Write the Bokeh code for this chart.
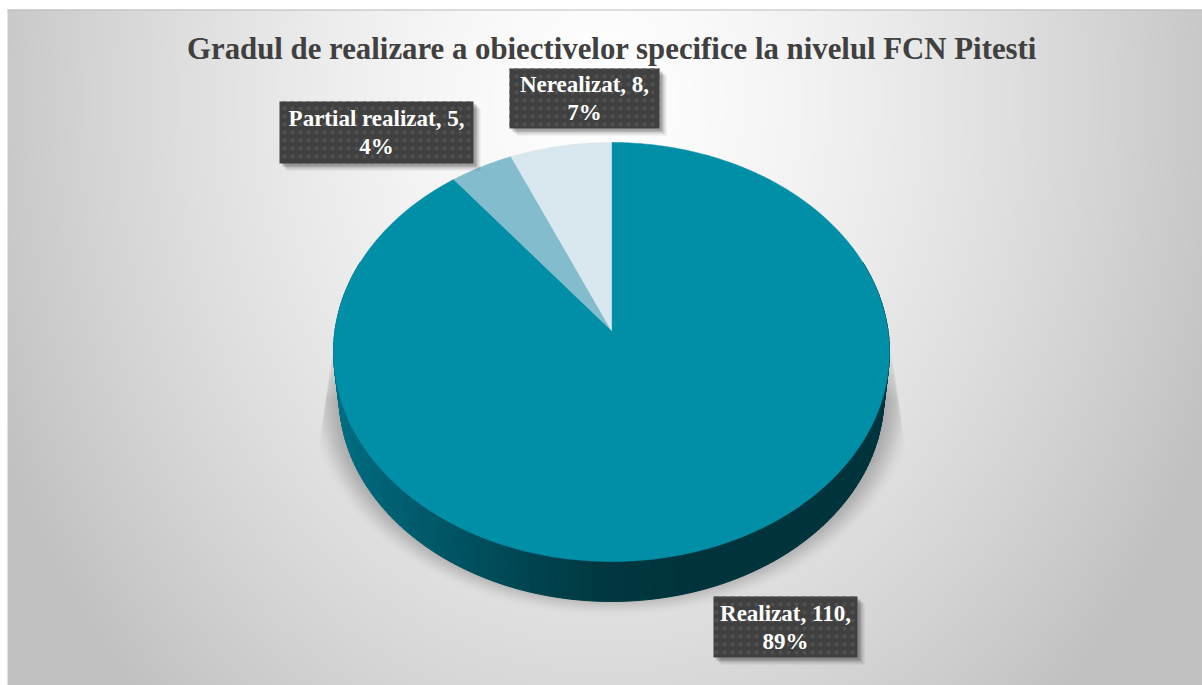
import numpy as np
from bokeh.plotting import figure
from bokeh.models import Range1d
from bokeh.embed import file_html
from bokeh.resources import INLINE
from bokeh.core.properties import value

# --- data
categories = ["Realizat", "Partial realizat", "Nerealizat"]
values = [110, 5, 8]
percents = ["89%", "4%", "7%"]
colors = ["#018fa8", "#83bccd", "#d9e7ee"]
title = "Gradul de realizare a obiectivelor specifice la nivelul FCN Pitesti"

W, H = 1202, 685
p = figure(width=W, height=H, output_backend="svg", toolbar_location=None,
           x_range=Range1d(0, W), y_range=Range1d(-H, 0),
           min_border=0, outline_line_color=None, background_fill_color="white",
           border_fill_color="white")
p.axis.visible = False
p.grid.visible = False

# --- background: radial gradient plus soft shadow under the pie
yy, xx = np.mgrid[0:H, 0:W]
px = xx + 0.5
py = yy + 0.5
r = np.sqrt(((px - 600) / 630) ** 2 + ((py - 100) / 800) ** 2)
bg = 255 - np.minimum(58 * r ** 1.4, 62)
rs = np.sqrt(((px - 611) / 305) ** 2 + ((py - 395) / 222) ** 2)
soft = np.clip((1.0 - rs) / 0.12, 0, 1)
soft = soft * soft * (3 - 2 * soft)
ramp = np.clip((py - 340) / 60, 0, 1)
edge_l = 333 - (py - 345) * 17 / 115
edge_r = 890 + (py - 345) * 17 / 115
clip = np.clip(px - edge_l, 0, 1) * np.clip(edge_r - px, 0, 1)
clip = np.where(py > 470, 1.0, clip)
shade = 1 - 0.25 * soft * ramp * clip
gray = np.clip(bg * shade, 0, 255).astype(np.uint32)
rgba = ((255 << 24) | (gray << 16) | (gray << 8) | gray).astype(np.uint32)
rgba[(px < 7) | (py < 9)] = 0xFFFFFFFF
p.image_rgba(image=[rgba[::-1]], x=0, y=-H, dw=W, dh=H)
p.segment(x0=[7], y0=[-9.5], x1=[W], y1=[-9.5], line_color="#bdbdbd", line_width=1)

# --- perspective pie geometry
CX, CY = 611, 330
A, B, K = 276.5, 207.3, 0.1026
S, DEPTH = 0.98, 44.6
def proj(t):
    Xv, Yv = np.sin(t), np.cos(t)
    d = 1 + K * Yv
    return CX + A * Xv / d, CY - B * Yv / d

total = sum(values)
fracs = np.cumsum([0] + values) / total * 2 * np.pi

def lerp_color(x):
    stops = [(333, (0, 110, 130)), (430, (0, 88, 104)), (530, (0, 68, 80)), (600, (0, 56, 65)), (700, (0, 52, 60)), (890, (0, 52, 60))]
    xs = [s[0] for s in stops]
    return "#%02x%02x%02x" % tuple(int(np.interp(x, xs, [s[1][i] for s in stops])) for i in range(3))

ts = np.linspace(np.radians(70), np.radians(290), 181)
tx, ty = proj(ts)
bx = CX + (tx - CX) * S
by = CY + DEPTH + (ty - CY) * S
side_xs, side_ys, side_c = [], [], []
for i in range(len(ts) - 1):
    side_xs.append([tx[i], tx[i + 1], bx[i + 1], bx[i]])
    side_ys.append([-ty[i], -ty[i + 1], -by[i + 1], -by[i]])
    side_c.append(lerp_color((tx[i] + tx[i + 1]) / 2))
p.patches(side_xs, side_ys, fill_color=side_c, line_color=side_c, line_width=1)

for i in range(len(values)):
    t = np.linspace(fracs[i], fracs[i + 1], max(3, int(values[i] * 4)))
    x, y = proj(t)
    p.patch(np.r_[CX, x], -np.r_[CY, y], fill_color=colors[i], line_color=colors[i], line_width=0.5)

# --- title
p.text(x=[611.5], y=[-48], text=[title], text_font=value("Liberation Serif"), text_font_style="bold",
       text_font_size="30.8px", text_color="#404040", text_align="center", text_baseline="middle")

# --- data labels
boxes = {"Partial realizat": (279, 473, 101, 163), "Nerealizat": (509, 659, 68, 128), "Realizat": (713, 857, 596, 657)}
for c, v, pc in zip(categories, values, percents):
    l, r_, t, b = boxes[c]
    for off, a in ((7, 0.08), (5, 0.12), (3, 0.2)):
        p.quad(left=[l + off], right=[r_ + off], top=[-(t + off)], bottom=[-(b + off)], fill_color="#000000",
               fill_alpha=a, line_color=None)
    p.quad(left=[l], right=[r_], top=[-t], bottom=[-b], fill_color="#404040", line_color=None,
           hatch_pattern="dot", hatch_color="#505050", hatch_scale=8, hatch_weight=1)
    mid = (l + r_) / 2
    p.text(x=[mid, mid], y=[-((t + b) / 2 - 14), -((t + b) / 2 + 14)], text=[f"{c}, {v},", pc],
           text_font=value("Liberation Serif"), text_font_style="bold", text_font_size="23px",
           text_color="#ffffff", text_align="center", text_baseline="middle")

open("out.html", "w").write(file_html(p, INLINE))
